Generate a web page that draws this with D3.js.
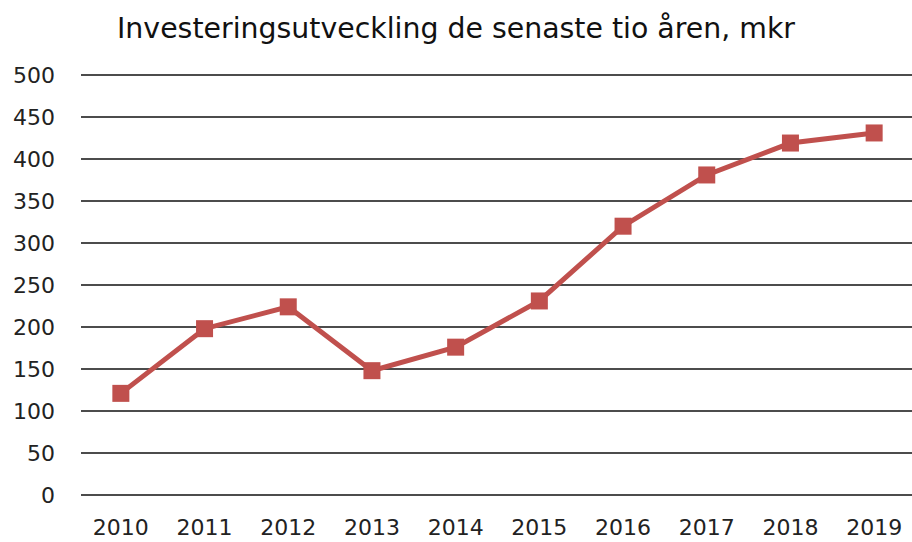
<!DOCTYPE html>
<html>
<head>
<meta charset="utf-8">
<script src="https://cdn.jsdelivr.net/npm/d3@7"></script>
<style>
    body { margin: 0; background: #fff; }
    text { font-family: "DejaVu Sans", Verdana, sans-serif; }
</style>
</head>
<body>
<div id="chart"></div>
<script>
const years = ["2010", "2011", "2012", "2013", "2014", "2015", "2016", "2017", "2018", "2019"];
const investments = [121, 198, 224, 148, 176, 231, 320, 381, 419, 431];
const yTicks = [0, 50, 100, 150, 200, 250, 300, 350, 400, 450, 500];

const width = 912, height = 542;

let svg = d3.select("#chart").append("svg")
    .attr("width", width)
    .attr("height", height);

// title
svg.append("text")
    .attr("x", 456)
    .attr("y", 38)
    .attr("text-anchor", "middle")
    .attr("font-family", "'Open Sans', sans-serif")
    .attr("font-size", 29)
    .attr("textLength", 678)
    .attr("lengthAdjust", "spacingAndGlyphs")
    .attr("fill", "#111")
    .text("Investeringsutveckling de senaste tio åren, mkr");

let x = d3.scalePoint()
    .domain(years)
    .range([79, 916])
    .padding(0.5);

let y = d3.scaleLinear()
    .domain([0, 500])
    .range([495, 75]);

// gridlines
svg.append("g")
    .selectAll("line")
    .data(yTicks)
    .enter().append("line")
    .attr("x1", 81)
    .attr("x2", width)
    .attr("y1", d => y(d))
    .attr("y2", d => y(d))
    .attr("stroke", "#111")
    .attr("stroke-width", 1.6);

// y labels
svg.append("g")
    .selectAll("text")
    .data(yTicks)
    .enter().append("text")
    .attr("x", 55)
    .attr("y", d => y(d) + 8)
    .attr("text-anchor", "end")
    .attr("font-size", 22)
    .attr("fill", "#222")
    .text(d => d);

// x labels
svg.append("g")
    .selectAll("text")
    .data(years)
    .enter().append("text")
    .attr("x", d => x(d))
    .attr("y", 535)
    .attr("text-anchor", "middle")
    .attr("font-size", 22)
    .attr("fill", "#222")
    .text(d => d);

let line = d3.line()
    .x((d, i) => x(years[i]))
    .y(d => y(d));

svg.append("path")
    .datum(investments)
    .attr("d", line)
    .attr("fill", "none")
    .attr("stroke", "#C0504D")
    .attr("stroke-width", 5);

const ms = 17;
svg.append("g")
    .selectAll("rect")
    .data(investments)
    .enter().append("rect")
    .attr("x", (d, i) => x(years[i]) - ms / 2)
    .attr("y", d => y(d) - ms / 2)
    .attr("width", ms)
    .attr("height", ms)
    .attr("fill", "#C0504D");
</script>
</body>
</html>
